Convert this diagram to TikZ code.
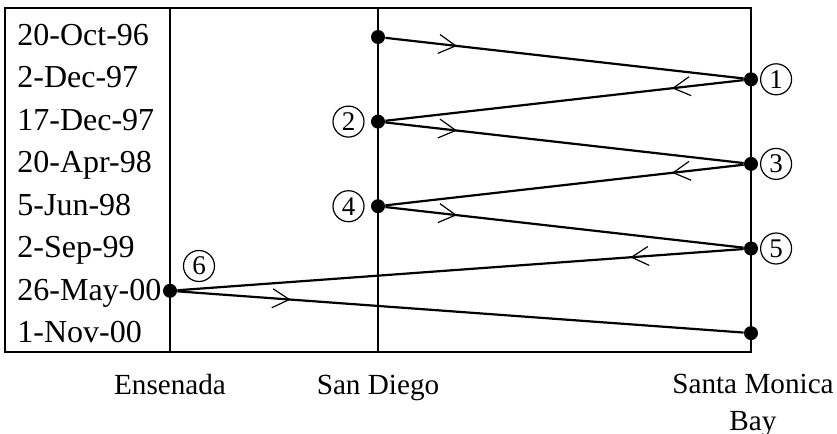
\documentclass[tikz,border=0pt]{standalone}
\usepackage{fontspec}
\setmainfont{Liberation Serif}
\usetikzlibrary{arrows.meta,decorations.markings,positioning}

\begin{document}
\begin{tikzpicture}[x=0.5pt, y=-0.5pt,
  every node/.style={inner sep=0pt},
  date/.style={anchor=base west, font=\fontsize{16}{19}\selectfont},
  site/.style={anchor=base, align=center, font=\fontsize{14.6}{18.5}\selectfont},
  dot/.style={circle, fill, minimum size=7pt},
  num/.style={circle, draw, line width=0.6pt, minimum size=15.5pt, font=\fontsize{13.5}{13.5}\selectfont},
  flowline/.style={line width=1.1pt, postaction={decorate},
    decoration={markings, mark=at position 0.2 with {\arrow{Straight Barb[length=8.5pt,width=9.5pt,line width=0.6pt]}}}}]
\useasboundingbox (0,0) rectangle (837,434);

% frame and site lines
\draw[line width=1pt] (5,8) rectangle (751,352);
\draw[line width=1pt] (170,8) -- (170,352);
\draw[line width=1pt] (378,8) -- (378,352);

% dates
\foreach \d [count=\i from 0] in {20-Oct-96, 2-Dec-97, 17-Dec-97, 20-Apr-98, 5-Jun-98, 2-Sep-99, 26-May-00, 1-Nov-00}
  \node[date] (t\i) at (17,45+42.5*\i) {\d};

% sightings
\node[dot] (p0) at (378,37) {};
\node[dot] (p1) at (751,79.3) {};
\node[dot] (p2) at (378,121.6) {};
\node[dot] (p3) at (751,163.9) {};
\node[dot] (p4) at (378,206.2) {};
\node[dot] (p5) at (751,248.5) {};
\node[dot] (p6) at (170,290.8) {};
\node[dot] (p7) at (751,333.1) {};

\node[num] (n1) [right=0.8pt of p1] {1};
\node[num] (n2) [left=3pt of p2] {2};
\node[num] (n3) [right=0.8pt of p3] {3};
\node[num] (n4) [left=3pt of p4] {4};
\node[num] (n5) [right=0.8pt of p5] {5};
\node[num] (n6) at (199,266) {6};

\foreach \a/\b in {0/1, 1/2, 2/3, 3/4, 4/5, 5/6, 6/7}
  \draw[flowline] (p\a) -- (p\b);

% sites
\node[site] (ens) at (170,394) {Ensenada};
\node[site] (sd) at (378,394) {San Diego};
\node[site] (smb) at (753,430) {Santa Monica\\Bay};
\end{tikzpicture}
\end{document}
